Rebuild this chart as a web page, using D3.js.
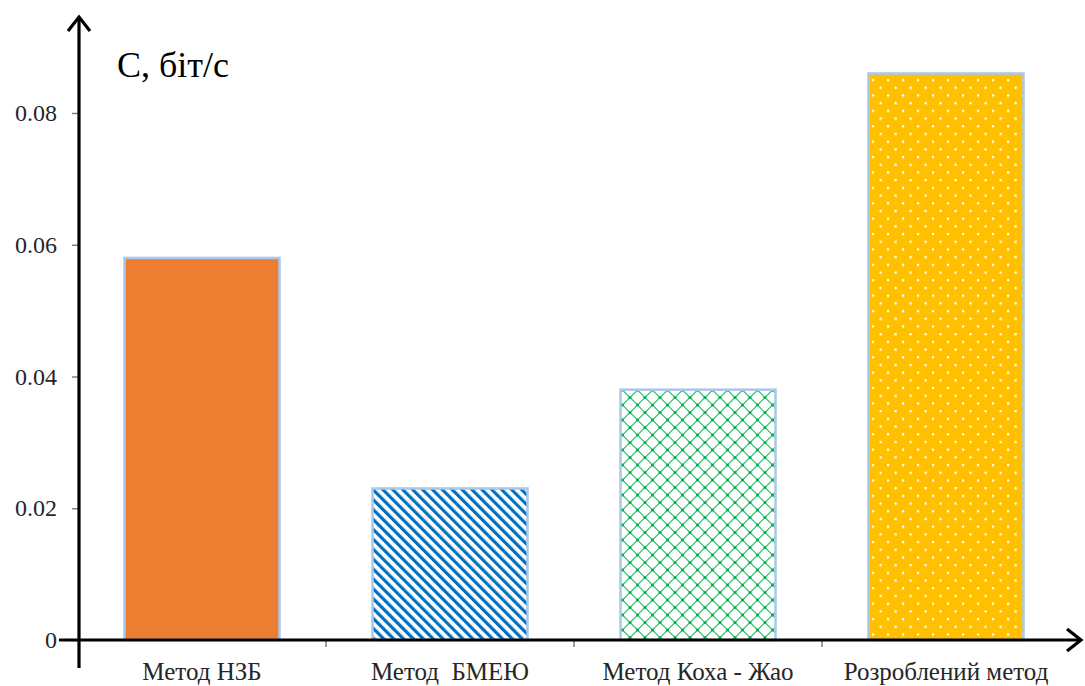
<!DOCTYPE html>
<html>
<head>
<meta charset="utf-8">
<script src="https://cdn.jsdelivr.net/npm/d3@7"></script>
<style>
    body { margin: 0; background: #fff; }
    svg { display: block; }
    .serif { font-family: "Liberation Serif", "Times New Roman", Times, "DejaVu Serif", "Noto Serif", serif; }
</style>
</head>
<body>
<div id="chart"></div>
<script>
// Дані діаграми
const methods = ["Метод НЗБ", "Метод  БМЕЮ", "Метод Коха - Жао", "Розроблений метод"];
const capacity = [0.058, 0.023, 0.038, 0.086];
const yTicks = [0, 0.02, 0.04, 0.06, 0.08];
const fills = ["url(#solid)", "url(#stripes)", "url(#trellis)", "url(#dots)"];

const W = 1085, H = 686;
const axisX = 79, axisY = 640;

const svg = d3.select("#chart")
    .append("svg")
    .attr("width", W)
    .attr("height", H);

// Візерунки заливки
const defs = svg.append("defs");

defs.append("pattern")
    .attr("id", "solid")
    .attr("patternUnits", "userSpaceOnUse")
    .attr("width", 10).attr("height", 10)
    .append("rect")
    .attr("width", 10).attr("height", 10)
    .attr("fill", "#ed7d31");

const stripes = defs.append("pattern")
    .attr("id", "stripes")
    .attr("patternUnits", "userSpaceOnUse")
    .attr("width", 7).attr("height", 7)
    .attr("patternTransform", "rotate(-45)");
stripes.append("rect").attr("width", 7).attr("height", 7).attr("fill", "#fff");
stripes.append("rect").attr("width", 3.2).attr("height", 7).attr("fill", "#0070c0");

const trellis = defs.append("pattern")
    .attr("id", "trellis")
    .attr("patternUnits", "userSpaceOnUse")
    .attr("width", 15).attr("height", 15);
trellis.append("rect").attr("width", 15).attr("height", 15).attr("fill", "#fff");
trellis.append("path")
    .attr("d", "M7.5,1 Q7.5,5 14,7.5 Q7.5,10 7.5,14 Q7.5,10 1,7.5 Q7.5,5 7.5,1 Z")
    .attr("fill", "none")
    .attr("stroke", "#00b050")
    .attr("stroke-width", 0);
trellis.append("path")
    .attr("d", "M7.5,0 L15,7.5 L7.5,15 L0,7.5 Z")
    .attr("fill", "none")
    .attr("stroke", "#2fbf6a")
    .attr("stroke-width", 1.1);
[[7.5, 0], [15, 7.5], [7.5, 15], [0, 7.5]].forEach(([cx, cy]) => {
    trellis.append("circle").attr("cx", cx).attr("cy", cy).attr("r", 1.5).attr("fill", "#00b050");
});

const dots = defs.append("pattern")
    .attr("id", "dots")
    .attr("patternUnits", "userSpaceOnUse")
    .attr("width", 15).attr("height", 15.4);
dots.append("rect").attr("width", 15).attr("height", 15.4).attr("fill", "#ffc000");
dots.append("rect").attr("x", 2).attr("y", 2).attr("width", 2.2).attr("height", 2.2).attr("fill", "#fff");
dots.append("rect").attr("x", 9.5).attr("y", 9.7).attr("width", 2.2).attr("height", 2.2).attr("fill", "#fff");

// Шкали
const x = d3.scaleBand()
    .domain(methods)
    .range([axisX - 1, 1070])
    .paddingInner(0.375)
    .paddingOuter(0.1875);

const y = d3.scaleLinear()
    .domain([0, 0.08])
    .range([axisY, 113]);

// Стовпці
svg.append("g")
    .selectAll("rect")
    .data(methods)
    .join("rect")
    .attr("x", d => x(d))
    .attr("y", (d, i) => y(capacity[i]))
    .attr("width", x.bandwidth())
    .attr("height", (d, i) => y(0) - y(capacity[i]))
    .attr("fill", (d, i) => fills[i])
    .attr("stroke", "#a9c8ee")
    .attr("stroke-width", 2.5);

// Вісь Y
const yAxis = svg.append("g")
    .attr("transform", `translate(${axisX},0)`)
    .call(d3.axisLeft(y)
        .tickValues(yTicks)
        .tickSize(7)
        .tickPadding(15)
        .tickFormat(d => d === 0 ? "0" : d3.format(".2f")(d)));
yAxis.attr("font-family", null);
yAxis.select(".domain").remove();
yAxis.selectAll(".tick line").attr("stroke", "#7f7f7f").attr("stroke-width", 1.5);
yAxis.selectAll(".tick text")
    .attr("class", "serif")
    .attr("fill", "#262626")
    .style("font-size", "24px");

// Поділки категорій між стовпцями
const boundaries = methods.slice(1).map(d => x(d) - x.step() * x.paddingInner() / 2);
svg.append("g")
    .selectAll("line")
    .data(boundaries)
    .join("line")
    .attr("x1", d => d).attr("x2", d => d)
    .attr("y1", axisY).attr("y2", axisY + 7)
    .attr("stroke", "#7f7f7f")
    .attr("stroke-width", 1.5);

// Підписи категорій
svg.append("g")
    .selectAll("text")
    .data(methods)
    .join("text")
    .attr("class", "serif")
    .attr("x", d => x(d) + x.bandwidth() / 2)
    .attr("y", 680)
    .attr("text-anchor", "middle")
    .attr("fill", "#262626")
    .style("font-size", "25px")
    .style("white-space", "pre")
    .text(d => d);

// Осі зі стрілками
const axes = svg.append("g")
    .attr("stroke", "#000")
    .attr("stroke-width", 3.2)
    .attr("fill", "none");
axes.append("line").attr("x1", axisX).attr("x2", axisX).attr("y1", 17).attr("y2", 668);
axes.append("path").attr("d", `M${axisX - 11},${31} L${axisX},${17} L${axisX + 11},${31}`);
axes.append("line").attr("x1", 59).attr("x2", 1081).attr("y1", axisY).attr("y2", axisY);
axes.append("path").attr("d", `M1067,${axisY - 11} L1081,${axisY} L1067,${axisY + 11}`);

// Назва осі Y
svg.append("text")
    .attr("class", "serif")
    .attr("x", 117)
    .attr("y", 77)
    .attr("fill", "#000")
    .style("font-size", "36px")
    .text("С, біт/с");
</script>
</body>
</html>
